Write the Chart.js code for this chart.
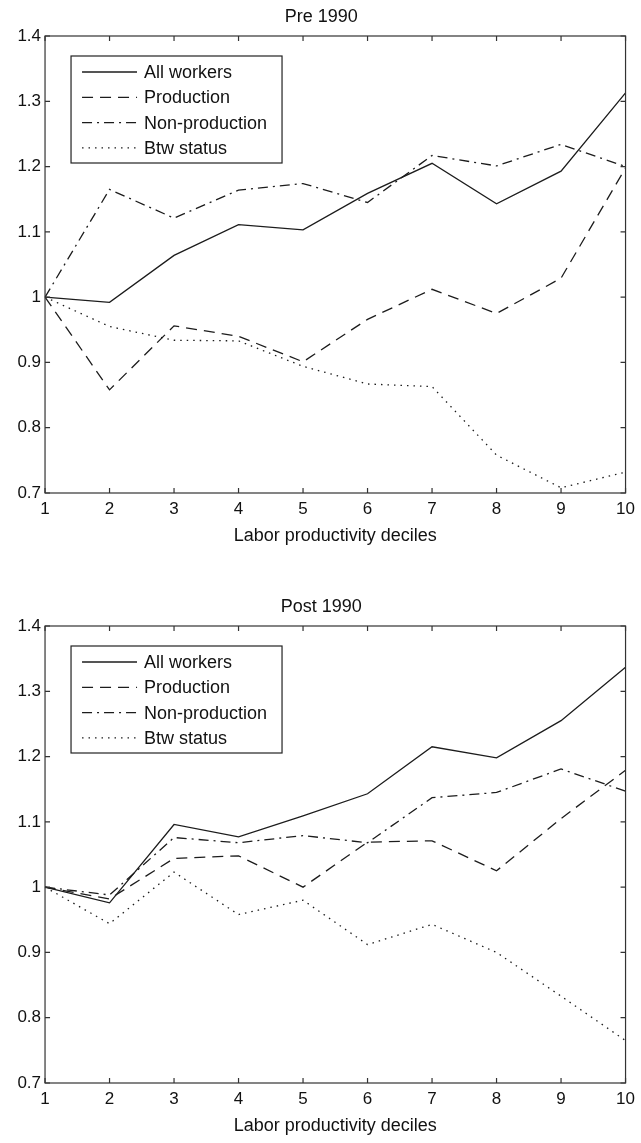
<!DOCTYPE html>
<html>
<head>
<meta charset="utf-8">
<script src="https://cdn.jsdelivr.net/npm/chart.js@4.4.1/dist/chart.umd.min.js"></script>
<style>
  html, body { margin: 0; padding: 0; background: #fff; }
  .panel { position: absolute; left: 0; width: 641px; height: 553px; }
  #pre { top: 0; }
  #post { top: 590px; }
</style>
</head>
<body>
<div class="panel" id="pre"><canvas id="preChart"></canvas></div>
<div class="panel" id="post"><canvas id="postChart"></canvas></div>
<script>
// data
var deciles = ['1', '2', '3', '4', '5', '6', '7', '8', '9', '10'];
var yTickValues = [0.7, 0.8, 0.9, 1.0, 1.1, 1.2, 1.3, 1.4];
var seriesNames = ['All workers', 'Production', 'Non-production', 'Btw status'];

var preAll = [1.000, 0.992, 1.064, 1.111, 1.103, 1.159, 1.205, 1.143, 1.193, 1.313];
var preProduction = [1.000, 0.858, 0.956, 0.940, 0.901, 0.966, 1.012, 0.975, 1.029, 1.198];
var preNonProduction = [1.000, 1.165, 1.121, 1.164, 1.174, 1.145, 1.217, 1.201, 1.234, 1.200];
var preBtw = [1.000, 0.955, 0.934, 0.933, 0.894, 0.867, 0.863, 0.758, 0.708, 0.732];

var postAll = [1.000, 0.976, 1.096, 1.077, 1.109, 1.143, 1.215, 1.198, 1.255, 1.337];
var postProduction = [1.000, 0.982, 1.044, 1.048, 1.000, 1.069, 1.071, 1.025, 1.105, 1.179];
var postNonProduction = [1.000, 0.988, 1.076, 1.068, 1.079, 1.068, 1.137, 1.145, 1.181, 1.147];
var postBtw = [1.000, 0.944, 1.023, 0.958, 0.980, 0.912, 0.943, 0.900, 0.833, 0.765];

var FONT = "'Liberation Sans', Arial, Helvetica, sans-serif";
var INK = '#1c1c1c';
var dashes = [[], [11, 7], [10, 5, 2, 5], [1.5, 5]];

// MATLAB-like box with inward ticks
var boxAxes = {
  id: 'boxAxes',
  afterDatasetsDraw: function (chart) {
    var ctx = chart.ctx, a = chart.chartArea;
    var xs = chart.scales.x, ys = chart.scales.y;
    ctx.save();
    ctx.strokeStyle = '#333';
    ctx.lineWidth = 1.2;
    ctx.setLineDash([]);
    ctx.strokeRect(a.left, a.top, a.right - a.left, a.bottom - a.top);
    ctx.beginPath();
    xs.ticks.forEach(function (t, i) {
      var px = xs.getPixelForTick(i);
      ctx.moveTo(px, a.bottom); ctx.lineTo(px, a.bottom - 5);
      ctx.moveTo(px, a.top); ctx.lineTo(px, a.top + 5);
    });
    ys.ticks.forEach(function (t) {
      var py = ys.getPixelForValue(t.value);
      ctx.moveTo(a.left, py); ctx.lineTo(a.left + 5, py);
      ctx.moveTo(a.right, py); ctx.lineTo(a.right - 5, py);
    });
    ctx.stroke();
    ctx.restore();
  }
};

// legend box in the upper left of the plot
var innerLegend = {
  id: 'innerLegend',
  afterDraw: function (chart) {
    var ctx = chart.ctx, a = chart.chartArea;
    var bx = a.left + 26, by = a.top + 20, bw = 211, bh = 107;
    ctx.save();
    ctx.fillStyle = '#fff';
    ctx.fillRect(bx, by, bw, bh);
    ctx.strokeStyle = '#222';
    ctx.lineWidth = 1.2;
    ctx.strokeRect(bx, by, bw, bh);
    ctx.font = '18px ' + FONT;
    ctx.textBaseline = 'middle';
    chart.data.datasets.forEach(function (ds, i) {
      var y = a.top + 36 + i * 25.3;
      ctx.beginPath();
      ctx.setLineDash(ds.borderDash || []);
      ctx.strokeStyle = ds.borderColor;
      ctx.lineWidth = ds.borderWidth;
      ctx.moveTo(a.left + 37, y);
      ctx.lineTo(a.left + 92, y);
      ctx.stroke();
      ctx.setLineDash([]);
      ctx.fillStyle = '#111';
      ctx.fillText(ds.label, a.left + 99, y + 1);
    });
    ctx.restore();
  }
};

function makePanel(canvasId, title, series) {
  var datasets = series.map(function (values, i) {
    return {
      label: seriesNames[i],
      data: values,
      borderColor: INK,
      borderWidth: 1.3,
      borderDash: dashes[i],
      pointRadius: 0,
      tension: 0,
      fill: false
    };
  });

  new Chart(document.getElementById(canvasId).getContext('2d'), {
    type: 'line',
    data: { labels: deciles, datasets: datasets },
    options: {
      responsive: true,
      maintainAspectRatio: false,
      animation: false,
      layout: { padding: { left: 13.4, right: 12, top: 0, bottom: 6 }, autoPadding: false },
      plugins: {
        legend: { display: false },
        tooltip: { enabled: false },
        title: {
          display: true,
          text: title,
          color: '#111',
          font: { family: FONT, size: 18, weight: 'normal', lineHeight: 1.2 },
          padding: { top: 6, bottom: 8.4 }
        }
      },
      scales: {
        x: {
          offset: false,
          grid: { display: false, drawTicks: false },
          border: { display: false },
          ticks: {
            color: '#111', padding: 6, autoSkip: false, maxRotation: 0,
            font: { family: FONT, size: 17, lineHeight: 1.2 }
          },
          title: {
            display: true,
            text: 'Labor productivity deciles',
            color: '#111',
            font: { family: FONT, size: 18, lineHeight: 1.2 },
            padding: { top: 0, bottom: 0 }
          }
        },
        y: {
          min: 0.7,
          max: 1.4,
          grid: { display: false, drawTicks: false },
          border: { display: false },
          afterBuildTicks: function (scale) {
            scale.ticks = yTickValues.map(function (v) { return { value: v }; });
          },
          ticks: {
            color: '#111', padding: 4,
            font: { family: FONT, size: 17, lineHeight: 1.2 },
            callback: function (v) { return String(Number(Number(v).toFixed(1))); }
          }
        }
      }
    },
    plugins: [boxAxes, innerLegend]
  });
}

makePanel('preChart', 'Pre 1990', [preAll, preProduction, preNonProduction, preBtw]);
makePanel('postChart', 'Post 1990', [postAll, postProduction, postNonProduction, postBtw]);
</script>
</body>
</html>
